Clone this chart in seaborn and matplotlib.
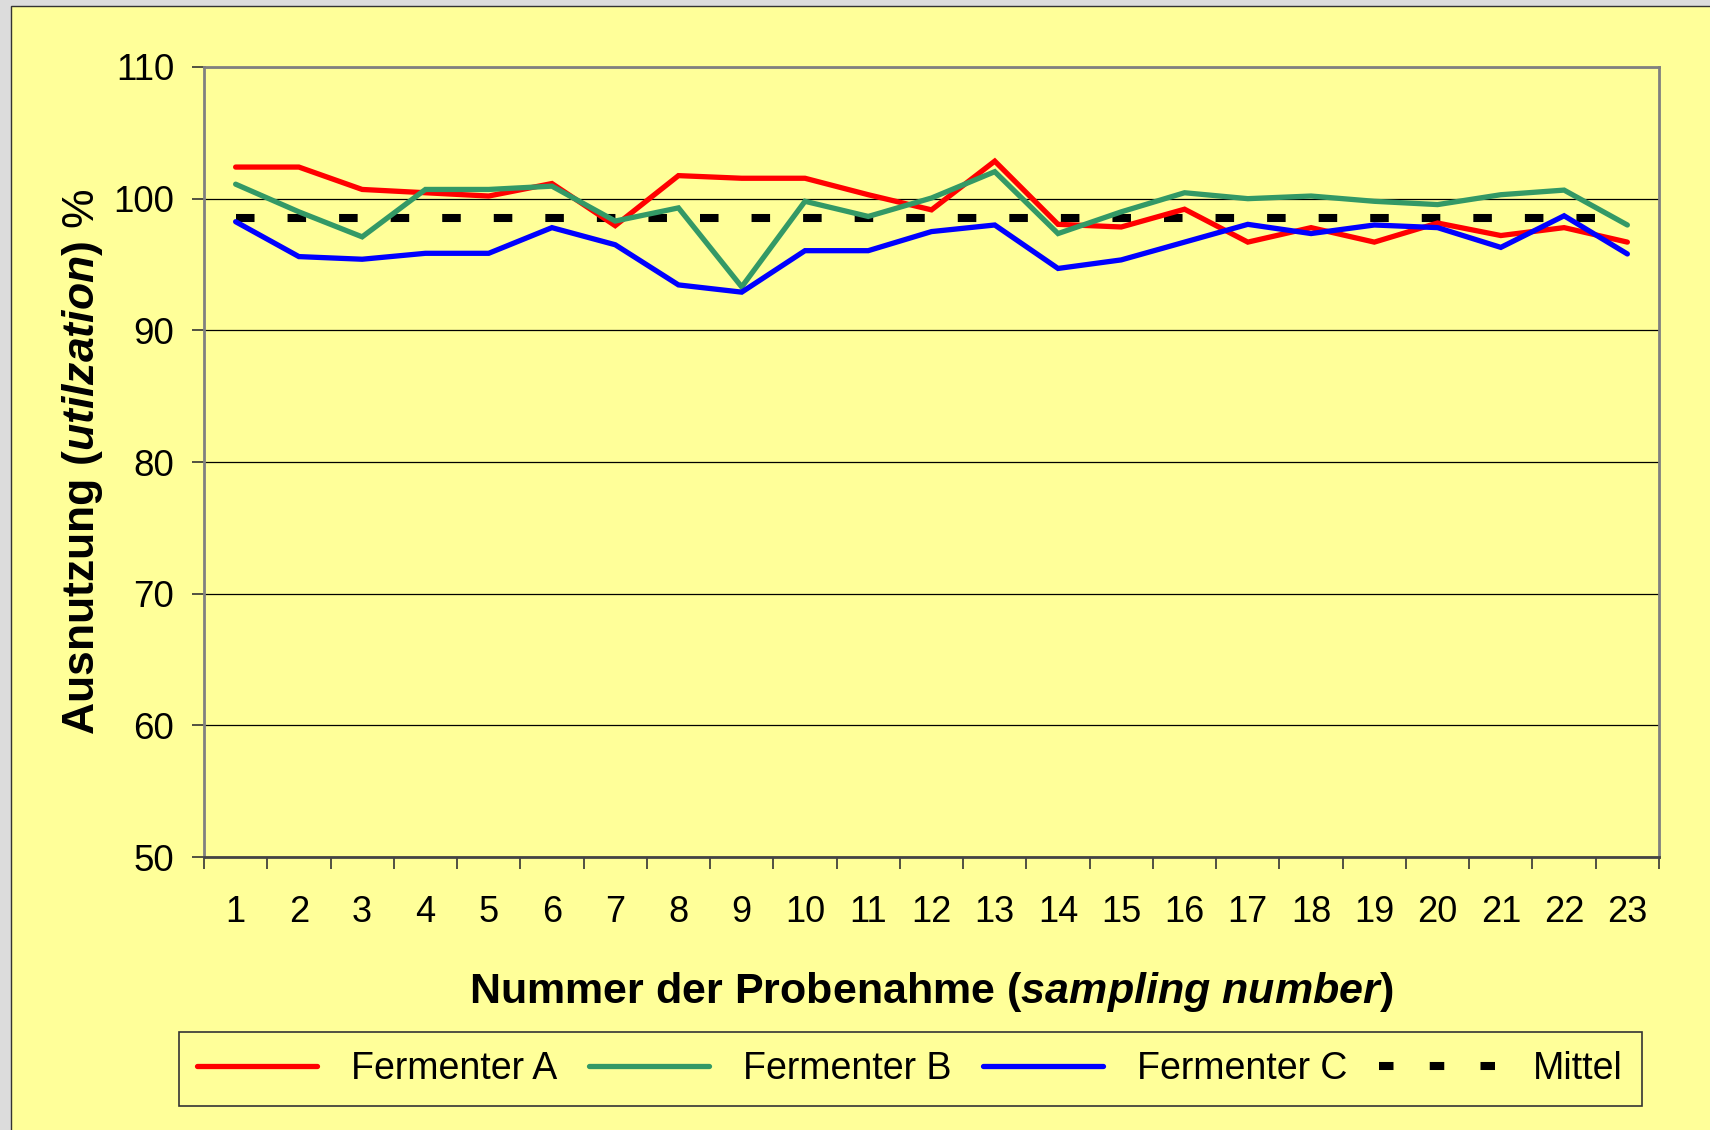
import matplotlib
matplotlib.use("Agg")
import matplotlib.pyplot as plt
from matplotlib.patches import Rectangle
from matplotlib.ticker import FixedLocator
import seaborn as sns
import pandas as pd

samples = [str(i) for i in range(1, 24)]
ferm_a = [102.4, 102.4, 100.7, 100.45, 100.2, 101.15, 97.95, 101.75, 101.55, 101.55, 100.3, 99.15,
          102.85, 98.05, 97.85, 99.2, 96.7, 97.8, 96.7, 98.15, 97.2, 97.8, 96.7]
ferm_b = [101.1, 99.0, 97.1, 100.7, 100.7, 100.95, 98.3, 99.3, 93.3, 99.8, 98.65, 100.05,
          102.05, 97.35, 99.0, 100.45, 100.0, 100.2, 99.8, 99.55, 100.3, 100.65, 98.0]
ferm_c = [98.25, 95.6, 95.4, 95.85, 95.85, 97.8, 96.5, 93.45, 92.9, 96.05, 96.05, 97.5,
          98.0, 94.7, 95.35, 96.7, 98.05, 97.35, 98.0, 97.8, 96.3, 98.7, 95.8]
mittel = [98.55, 98.55, 98.55, 98.55, 98.55, 98.55, 98.55, 98.55, 98.55, 98.55, 98.55, 98.55,
          98.55, 98.55, 98.55, 98.55, 98.55, 98.55, 98.55, 98.55, 98.55, 98.55, 98.55]
series_names = ["Fermenter A", "Fermenter B", "Fermenter C", "Mittel"]
y_ticks = [50, 60, 70, 80, 90, 100, 110]

rows = []
for name, vals in zip(series_names, [ferm_a, ferm_b, ferm_c, mittel]):
    for i, v in enumerate(vals):
        rows.append({"pos": i, "value": v, "series": name})
df = pd.DataFrame(rows)

sns.set_theme(style="white")
plt.rcParams["font.family"] = ["Liberation Sans", "DejaVu Sans"]
plt.rcParams["text.color"] = "black"
plt.rcParams["axes.labelcolor"] = "black"
plt.rcParams["xtick.color"] = "black"
plt.rcParams["ytick.color"] = "black"
plt.rcParams["mathtext.fontset"] = "custom"
plt.rcParams["mathtext.rm"] = "Liberation Sans"
plt.rcParams["mathtext.it"] = "Liberation Sans:italic"
plt.rcParams["mathtext.bf"] = "Liberation Sans:bold"
plt.rcParams["mathtext.bfit"] = "Liberation Sans:italic:bold"

W, H = 1710, 1130
fig = plt.figure(figsize=(W / 100, H / 100), dpi=100, facecolor="#DCDCDC")
fig.patches.append(Rectangle((11 / W, -0.01), 1.0, 1 - 6 / H + 0.01, transform=fig.transFigure,
                             facecolor="#FFFF99", edgecolor="#333333", linewidth=1.0, zorder=-5))

ax = fig.add_axes([204 / W, 1 - 857 / H, (1659 - 204) / W, (857 - 67) / H])
ax.set_facecolor("#FFFF99")

LW = 3.8
palette = {"Fermenter A": "#FF0000", "Fermenter B": "#339966", "Fermenter C": "#0000FF", "Mittel": "#000000"}
sns.lineplot(data=df, x="pos", y="value", hue="series", palette=palette, hue_order=series_names,
             ax=ax, linewidth=LW, legend=False, sort=False)
lines = ax.get_lines()
for ln, name in zip(lines, series_names):
    ln.set_solid_capstyle("round")
    ln.set_solid_joinstyle("miter")
    if name == "Mittel":
        ln.set_linewidth(5.8)
        ln.set_dashes([2.3, 4.1])
        ln.set_dash_capstyle("butt")
        ln.set_zorder(1.5)

ax.set_xlim(-0.5, 22.5)
ax.set_ylim(50, 110)
ax.set_yticks(y_ticks)
ax.set_yticklabels([str(t) for t in y_ticks], fontsize=26.5)
ax.set_xticks(range(23))
ax.set_xticklabels(samples, fontsize=26)
ax.xaxis.set_minor_locator(FixedLocator([i - 0.5 for i in range(24)]))
ax.tick_params(axis="x", which="major", length=0, pad=27)
ax.tick_params(axis="x", which="minor", length=8.5, width=1.2, color="#333333", bottom=True)
ax.tick_params(axis="y", which="major", length=8.5, width=1.2, color="#333333", left=True, pad=13)
ax.yaxis.grid(True, color="#000000", linewidth=0.9)
ax.set_axisbelow(True)
for s in ["top", "right", "left"]:
    ax.spines[s].set_color("#808080")
    ax.spines[s].set_linewidth(2)
ax.spines["bottom"].set_color("#444444")
ax.spines["bottom"].set_linewidth(2)

ax.set_xlabel(r"Nummer der Probenahme ($\mathbfit{sampling\ number}$)", fontsize=31,
              fontweight="bold", labelpad=29)
ax.set_ylabel(r"$\mathbf{Ausnutzung\ (}\mathbfit{utilzation}\mathbf{)}$ %", fontsize=32,
              labelpad=6)

handles = [plt.Line2D([], [], color=palette[n], linewidth=(5.8 if n == "Mittel" else LW)) for n in series_names]
handles[3].set_dashes([1.8, 4.5])
handles[3].set_dash_capstyle("butt")
leg = fig.legend(handles, series_names, loc="center", bbox_to_anchor=(910 / W, 1 - 1069 / H), ncol=4,
                 fontsize=27, frameon=True, fancybox=False, handlelength=3.2, columnspacing=0.85,
                 handletextpad=0.9, borderpad=0.5, edgecolor="#333333", facecolor="#FFFF99")
leg.get_frame().set_linewidth(1.2)
leg.get_frame().set_alpha(None)

fig.savefig("out.png", dpi=100, facecolor=fig.get_facecolor())
